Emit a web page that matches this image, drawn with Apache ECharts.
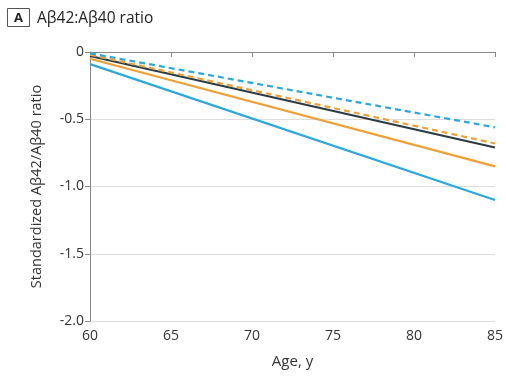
<!DOCTYPE html>
<html><head><meta charset="utf-8">
<script src="https://cdn.jsdelivr.net/npm/echarts@6/dist/echarts.min.js"></script>
<style>html,body{margin:0;padding:0;background:#fff}#c{width:506px;height:377px}</style>
</head><body><div id="c"></div>
<script>
var ages = [60, 85];
var blueSolid = [-0.09, -1.10];
var orangeSolid = [-0.05, -0.85];
var darkSolid = [-0.03, -0.71];
var orangeDashed = [-0.02, -0.68];
var blueDashed = [-0.01, -0.56];
var yTicks = [0, -0.5, -1.0, -1.5, -2.0];

function pairs(v){ return ages.map(function(a,i){return [a, v[i]];}); }
function ser(name, v, color, dashed){
  return {name:name, type:'line', data:pairs(v), symbol:'none', silent:true,
    lineStyle:{color:color, width:2.2, type: dashed ? [6,4] : 'solid'}};
}
var chart = echarts.init(document.getElementById('c'));
chart.setOption({
  animation:false,
  textStyle:{fontFamily:'Open Sans'},
  graphic:[
    {type:'rect', shape:{x:7.5,y:8.5,width:22,height:18}, style:{fill:'#fff', stroke:'#555', lineWidth:1}},
    {type:'text', x:18.5, y:18, style:{text:'A', font:'bold 13px "Open Sans"', fill:'#222', align:'center', verticalAlign:'middle'}},
    {type:'text', x:37, y:18.5, style:{text:'Aβ42:Aβ40 ratio', font:'15.5px "Open Sans"', fill:'#222', verticalAlign:'middle'}}
  ],
  grid:{left:90, right:8, top:52, bottom:56},
  xAxis:{type:'value', min:60, max:85, interval:5,
    name:'Age, y', nameLocation:'middle', nameGap:33,
    nameTextStyle:{fontSize:15, color:'#333'},
    axisLine:{lineStyle:{color:'#888'}},
    axisTick:{length:5, lineStyle:{color:'#888'}},
    axisLabel:{fontSize:14, color:'#333', margin:8},
    splitLine:{show:false}},
  yAxis:{type:'value', min:-2, max:0, interval:0.5,
    name:'Standardized Aβ42/Aβ40 ratio', nameLocation:'middle', nameGap:46,
    nameTextStyle:{fontSize:14.5, color:'#333'},
    axisLine:{show:true, lineStyle:{color:'#888'}},
    axisTick:{show:true, length:5, lineStyle:{color:'#888'}},
    axisLabel:{fontSize:14, color:'#333', margin:6,
      formatter:function(v){ return v===0 ? '0' : v.toFixed(1); }},
    splitLine:{show:true, lineStyle:{color:'#ddd', width:1}}},
  series:[
    ser('Blue solid', blueSolid, '#2aa8de', false),
    ser('Orange solid', orangeSolid, '#f0a033', false),
    ser('Dark', darkSolid, '#2c3a42', false),
    ser('Orange dashed', orangeDashed, '#f0a033', true),
    ser('Blue dashed', blueDashed, '#2aa8de', true)
  ]
});
</script></body></html>
